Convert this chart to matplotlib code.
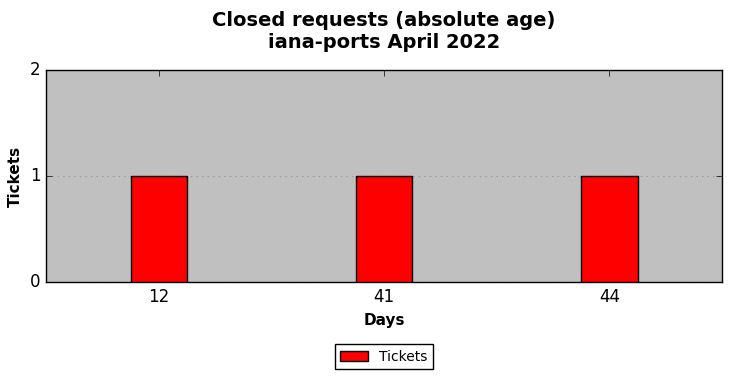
import matplotlib
matplotlib.use("Agg")
import matplotlib.pyplot as plt
import numpy as np

plt.style.use("classic")

# data
days = ["12", "41", "44"]
tickets = [1, 1, 1]

fig = plt.figure(figsize=(7.31, 3.78), dpi=100)
ax = fig.add_axes([46 / 731, 1 - 282 / 378, 676 / 731, 212 / 378])
ax.set_facecolor("#c0c0c0")

x = np.arange(len(days))
ax.bar(x, tickets, width=0.25, color="red", edgecolor="black", align="center", label="Tickets", zorder=3)

ax.set_xlim(-0.5, len(days) - 0.5)
ax.set_ylim(0, 2)
ax.set_xticks(x)
ax.set_xticklabels(days)
ax.set_yticks([0, 1, 2])
ax.yaxis.grid(True, linestyle=":", color="#999999", linewidth=0.8)
ax.set_axisbelow(True)
ax.tick_params(labelsize=12)

ax.set_xlabel("Days", fontsize=11, fontweight="bold")
ax.set_ylabel("Tickets", fontsize=11, fontweight="bold")
fig.suptitle("Closed requests (absolute age)\niana-ports April 2022", fontsize=14, fontweight="bold",
             x=384 / 731, y=0.972)

fig.legend(loc="lower center", bbox_to_anchor=(0.525, 0.005), fontsize=10, ncol=1, numpoints=1)

fig.savefig("out.png", dpi=100)
